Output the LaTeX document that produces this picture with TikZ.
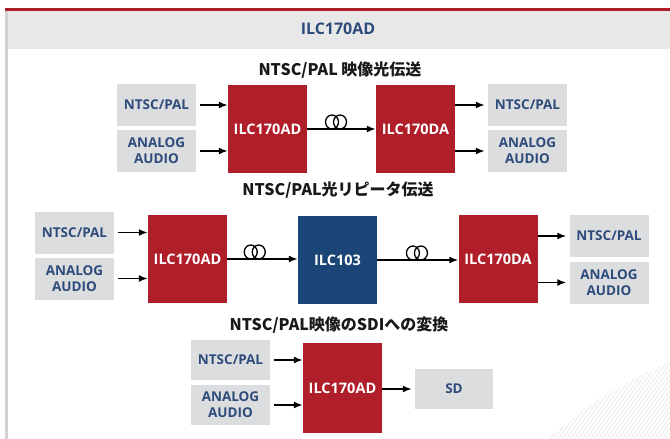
\documentclass[tikz,border=0pt]{standalone}
\usepackage{fontspec}
\setmainfont{Open Sans}
\newfontfamily\jpfont{Noto Sans CJK JP}
\usetikzlibrary{arrows.meta}
\definecolor{ilcred}{HTML}{B01E2A}
\definecolor{ilcblue}{HTML}{1B4577}
\definecolor{ilcgray}{HTML}{DCDDDE}
\definecolor{ilcnavy}{HTML}{2D4B7C}

\begin{document}
\begin{tikzpicture}[x=1pt, y=-1pt,
	sigbox/.style={fill=ilcgray, text=ilcnavy, minimum width=79pt, minimum height=42pt, inner sep=0pt, align=center, font=\bfseries\fontsize{13.5}{16}\selectfont},
	unit/.style={fill=ilcred, text=white, minimum width=79pt, minimum height=88pt, inner sep=0pt, font=\bfseries\fontsize{14.5}{16}\selectfont},
	rep/.style={unit, fill=ilcblue},
	ttl/.style={font=\jpfont\bfseries\fontsize{16}{18}\selectfont, text=black!90},
	sig/.style={-{Latex[length=9pt,width=7pt]}, line width=1.6pt},
	coil/.style={line width=1.3pt}]
		\useasboundingbox (0,0) rectangle (670,439);
		\fill[white] (0,0) rectangle (670,439);
		% header band
		\fill[ilcred] (5,8) rectangle (670,11);
		\fill[gray!18] (5,11) rectangle (670,49);
		\fill[gray!35] (5,11) rectangle (8,439);
		\node[font=\bfseries\fontsize{16}{18}\selectfont, text=ilcnavy] (head) at (338,29) {ILC170AD};
		% swoosh lower right
		\begin{scope}
			\clip (548,439) .. controls (590,402) and (630,378) .. (670,362) -- (670,439) -- cycle;
			\foreach \i in {0,...,40}
				\draw[gray!16, line width=0.8pt] (530+4*\i,445) .. controls (555+4*\i,410) .. (600+4*\i,350);
		\end{scope}

		% row 1
		\node[ttl] (t1) at (340,70) {NTSC/PAL 映像光伝送};
		\node[sigbox] (in1a) at (156.5,105) {NTSC/PAL};
		\node[sigbox] (in1b) at (156.5,151) {ANALOG\\AUDIO};
		\node[unit] (r1a) at (267.5,129) {ILC170AD};
		\node[unit] (r1b) at (415.5,129) {ILC170DA};
		\node[sigbox] (out1a) at (527.5,105) {NTSC/PAL};
		\node[sigbox] (out1b) at (527.5,151) {ANALOG\\AUDIO};
		\draw[sig, shorten <=4pt] (in1a) -- (r1a.west |- in1a);
		\draw[sig, shorten <=4pt] (in1b) -- (r1a.west |- in1b);
		\draw[sig] (r1a) -- coordinate[pos=0.42] (c1) (r1b);
		\draw[sig, shorten >=3pt] (r1b.east |- out1a) -- (out1a);
		\draw[sig, shorten >=3pt] (r1b.east |- out1b) -- (out1b);
		\draw[coil] (c1) ++(-4,-7) circle[x radius=6.5, y radius=7] ++(8,0) circle[x radius=6.5, y radius=7];

		% row 2
		\node[ttl] (t2) at (338,190) {NTSC/PAL光リピータ伝送};
		\node[sigbox] (in2a) at (74.5,232.5) {NTSC/PAL};
		\node[sigbox] (in2b) at (74.5,278.5) {ANALOG\\AUDIO};
		\node[unit] (r2a) at (187.5,259) {ILC170AD};
		\node[rep] (b2) at (337.5,260) {ILC103};
		\node[unit] (r2b) at (498,259) {ILC170DA};
		\node[sigbox] (out2a) at (609,236) {NTSC/PAL};
		\node[sigbox] (out2b) at (609,282.5) {ANALOG\\AUDIO};
		\draw[sig, shorten <=4pt] (in2a) -- (r2a.west |- in2a);
		\draw[sig, shorten <=4pt] (in2b) -- (r2a.west |- in2b);
		\draw[sig] (r2a) -- coordinate[pos=0.39] (c2) (b2.west |- r2a);
		\draw[sig] (b2) -- coordinate[pos=0.49] (c3) (r2b.west |- b2);
		\draw[sig, shorten >=3pt] (r2b.east |- out2a) -- (out2a);
		\draw[sig, shorten >=3pt] (r2b.east |- out2b) -- (out2b);
		\draw[coil] (c2) ++(-4,-7) circle[x radius=6.5, y radius=7] ++(8,0) circle[x radius=6.5, y radius=7];
		\draw[coil] (c3) ++(-4,-7) circle[x radius=6.5, y radius=7] ++(8,0) circle[x radius=6.5, y radius=7];

		% row 3
		\node[ttl] (t3) at (339,325) {NTSC/PAL映像のSDIへの変換};
		\node[sigbox, minimum height=40pt] (in3a) at (230.5,360) {NTSC/PAL};
		\node[sigbox, minimum height=40pt] (in3b) at (230.5,405) {ANALOG\\AUDIO};
		\node[unit, minimum height=90pt] (r3) at (342.5,388) {ILC170AD};
		\node[sigbox, minimum height=40pt, minimum width=78pt] (sd) at (454,389) {SD};
		\draw[sig, shorten <=4pt] (in3a) -- (r3.west |- in3a);
		\draw[sig, shorten <=4pt] (in3b) -- (r3.west |- in3b);
		\draw[sig, shorten >=3pt] (r3.east |- sd) -- (sd);
\end{tikzpicture}
\end{document}
